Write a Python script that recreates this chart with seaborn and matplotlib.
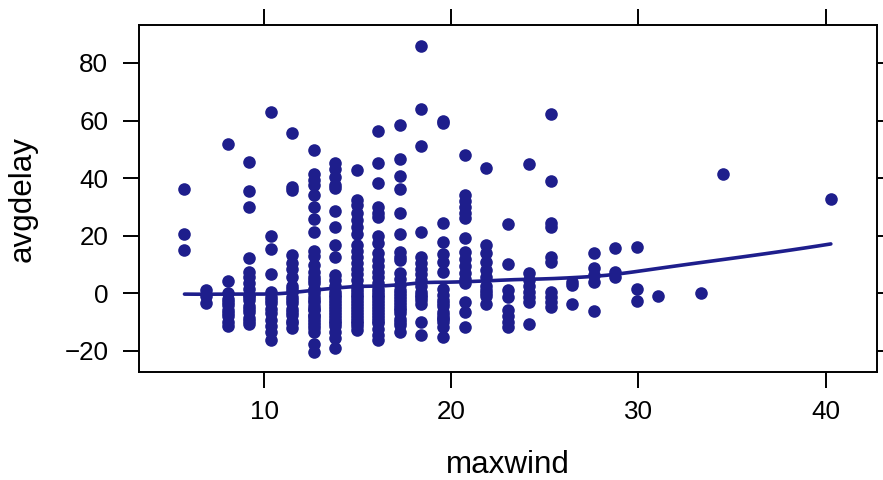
import numpy as np
import pandas as pd
import matplotlib
matplotlib.use("Agg")
import matplotlib.pyplot as plt
import seaborn as sns

# ---- data (dense columns hold overlapping points) ----
maxwind_levels = [5.75, 6.90, 8.06, 9.21, 10.36, 11.51, 12.66, 13.81, 14.96,
                  16.11, 17.26, 18.41, 19.56, 20.71, 21.86, 23.02, 24.17,
                  25.32, 26.47, 27.62, 28.77, 29.92, 31.07, 33.37, 34.52, 40.28]

d_05_75 = [36.3, 20.7, 15.0]
d_06_90 = [1.0, -1.0, -3.5]
d_08_06 = [51.7, 4.3, 0.0, -2.0, -3.0, -4.0, -6.0, -7.0, -8.0, -10.0, -11.5]
d_09_21 = [45.6, 35.4, 29.9, 12.1, 7.4, 5.5, 3.5, 1.5, -0.5, -1.5, -2.5, -4.5, -5.5,
           -6.5, -8.5, -9.5, -10.6]
d_10_36 = [62.9, 19.7, 15.4, 6.7, 0.5, -1.5, -2.5, -3.5, -5.5, -7.0, -9.4, -11.5,
           -13.5, -16.4]
d_11_51 = [55.5, 37.0, 36.0, 13.3, 10.5, 8.5, 5.5, 2.5, 1.5, 0.5, -1.5, -2.5, -3.5,
           -5.5, -6.5, -7.5, -9.5, -10.5, -12.0]
d_12_66 = [49.9, 41.5, 39.5, 37.7, 34.2, 30.1, 25.7, 21.4, 14.8, 13.0, 9.8, 7.5, 5.5,
           4.5, 3.5, 1.5, 1.0, 0.0, -1.5, -2.5, -3.0, -4.5, -5.5, -6.0, -7.5, -8.0,
           -9.0, -10.0, -11.0, -12.0, -13.5, -17.6, -20.5]
d_13_81 = [45.3, 43.0, 40.5, 37.5, 36.5, 28.4, 23.1, 16.8, 12.7, 6.3, 4.5, 2.5, 0.5,
           -0.5, -1.5, -2.5, -3.5, -4.5, -5.5, -6.5, -7.5, -8.5, -9.5, -10.5, -11.5,
           -13.5, -15.5, -19.0]
d_14_96 = [42.9, 32.5, 30.5, 28.0, 25.5, 23.0, 20.5, 16.8, 14.5, 12.5, 10.5, 8.5, 6.5,
           4.5, 2.5, 1.5, 0.5, -0.5, -1.5, -2.5, -3.5, -4.5, -5.5, -6.5, -7.5, -8.5,
           -9.5, -10.5, -11.5, -12.9]
d_16_11 = [56.3, 45.3, 38.3, 30.1, 28.0, 26.6, 19.7, 17.3, 13.9, 11.5, 9.5, 7.5, 5.5,
           3.5, 1.5, 0.5, -0.5, -1.5, -2.5, -3.5, -4.5, -5.5, -6.5, -7.5, -8.5, -9.5,
           -10.5, -12.5, -14.5, -16.4]
d_17_26 = [58.4, 46.7, 40.6, 36.2, 28.0, 20.6, 14.4, 12.5, 11.5, 6.9, 5.0, 3.0, 1.0,
           0.0, -1.0, -2.0, -3.0, -4.0, -5.0, -6.0, -7.0, -9.0, -10.0, -11.0, -13.5]
d_18_41 = [86.0, 63.9, 51.3, 21.2, 12.7, 10.5, 8.5, 6.5, 4.5, 2.5, 0.5, -0.5, -1.5,
           -2.5, -3.6, -10.0, -14.7]
d_19_56 = [59.8, 59.0, 24.3, 17.7, 13.5, 11.0, 7.4, 1.6, -0.5, -2.5, -3.5, -4.5, -6.5,
           -7.5, -8.5, -9.0, -10.0, -11.8, -15.3]
d_20_71 = [47.9, 34.2, 32.0, 30.0, 28.0, 26.1, 19.1, 14.4, 12.0, 9.5, 7.0, 5.0, 3.4,
           -3.0, -6.5, -11.8]
d_21_86 = [43.5, 16.8, 14.0, 11.0, 8.0, 5.5, 2.5, 1.0, 0.0, -1.0, -3.8]
d_23_02 = [24.0, 10.1, 1.0, -1.3, -5.9, -8.0, -10.0, -11.8]
d_24_17 = [45.0, 6.9, 4.5, 2.5, 0.5, -1.5, -3.0, -10.8]
d_25_32 = [62.1, 39.1, 24.3, 23.1, 12.7, 10.9, 0.5, -1.5, -3.2, -4.8]
d_26_47 = [3.9, 2.9, -3.8]
d_27_62 = [13.9, 8.6, 6.3, 3.9, -6.2]
d_28_77 = [15.6, 7.4, 5.7]
d_29_92 = [16.2, 1.6, -2.7]
d_31_07 = [-1.0]
d_33_37 = [0.1]
d_34_52 = [41.5]
d_40_28 = [32.7]

delay_groups = [d_05_75, d_06_90, d_08_06, d_09_21, d_10_36, d_11_51, d_12_66,
                d_13_81, d_14_96, d_16_11, d_17_26, d_18_41, d_19_56, d_20_71,
                d_21_86, d_23_02, d_24_17, d_25_32, d_26_47, d_27_62, d_28_77,
                d_29_92, d_31_07, d_33_37, d_34_52, d_40_28]

x_ticks = [10, 20, 30, 40]
y_ticks = [-20, 0, 20, 40, 60, 80]

rows = []
for w, grp in zip(maxwind_levels, delay_groups):
    for v in grp:
        rows.append((w, v))
df = pd.DataFrame(rows, columns=["maxwind", "avgdelay"])


# ---- loess smooth (span 2/3, degree 1, symmetric family) ----
def loess_fit(x, y, xs, span=2/3, iters=4):
    x = np.asarray(x, float)
    y = np.asarray(y, float)
    n = len(x)
    q = int(np.floor(n * span))
    rw = np.ones(n)

    def fit_at(x0, rw):
        d = np.abs(x - x0)
        h = np.sort(d)[q - 1]
        h = max(h, 1e-12)
        u = np.clip(d / h, 0, 1)
        w = (1 - u ** 3) ** 3 * rw
        W = w.sum()
        xm = (w * x).sum() / W
        ym = (w * y).sum() / W
        sxx = (w * (x - xm) ** 2).sum()
        b = (w * (x - xm) * (y - ym)).sum() / sxx if sxx > 0 else 0.0
        return ym + b * (x0 - xm)

    for _ in range(iters):
        fitted = np.array([fit_at(xi, rw) for xi in x])
        r = y - fitted
        s = np.median(np.abs(r))
        u = np.clip(r / (6 * s), -1, 1)
        rw = (1 - u ** 2) ** 2
    return np.array([fit_at(x0, rw) for x0 in xs])


xs = np.linspace(df["maxwind"].min(), df["maxwind"].max(), 50)
smooth = pd.DataFrame({"maxwind": xs,
                       "avgdelay": loess_fit(df["maxwind"], df["avgdelay"], xs)})

# ---- plot ----
sns.set_theme(style="white")
plt.rcParams["font.family"] = ["Liberation Sans", "DejaVu Sans"]

col = "#1E1E8C"
fig = plt.figure(figsize=(8.83, 4.80), dpi=100)
ax = fig.add_axes([139 / 883, 1 - 372.3 / 480, (876.7 - 139) / 883, (372.3 - 25) / 480])

sns.scatterplot(data=df, x="maxwind", y="avgdelay", ax=ax, color=col,
                s=82, linewidth=0, zorder=3)
sns.lineplot(data=smooth, x="maxwind", y="avgdelay", ax=ax, color=col,
             linewidth=2.6, zorder=4)

ax.set_xlim(3.32, 42.73)
ax.set_ylim(-27.5, 93.2)
ax.set_xticks(x_ticks)
ax.set_yticks(y_ticks)

for sp in ax.spines.values():
    sp.set_visible(True)
    sp.set_color("black")
    sp.set_linewidth(1.4)

ax.tick_params(axis="both", direction="out", length=11.3, width=1.4,
               color="black", labelcolor="black", labelsize=18.7,
               top=True, right=True, labeltop=False, labelright=False,
               bottom=True, left=True)
ax.tick_params(axis="x", pad=8.6)
ax.tick_params(axis="y", pad=10.8)

ax.set_xlabel("maxwind", fontsize=22.6, color="black")
ax.set_ylabel("avgdelay", fontsize=22.6, color="black")
ax.xaxis.set_label_coords(0.5, -0.225)
ax.yaxis.set_label_coords(-0.138, 0.5)
ax.grid(False)

fig.savefig("out.png", dpi=100)
